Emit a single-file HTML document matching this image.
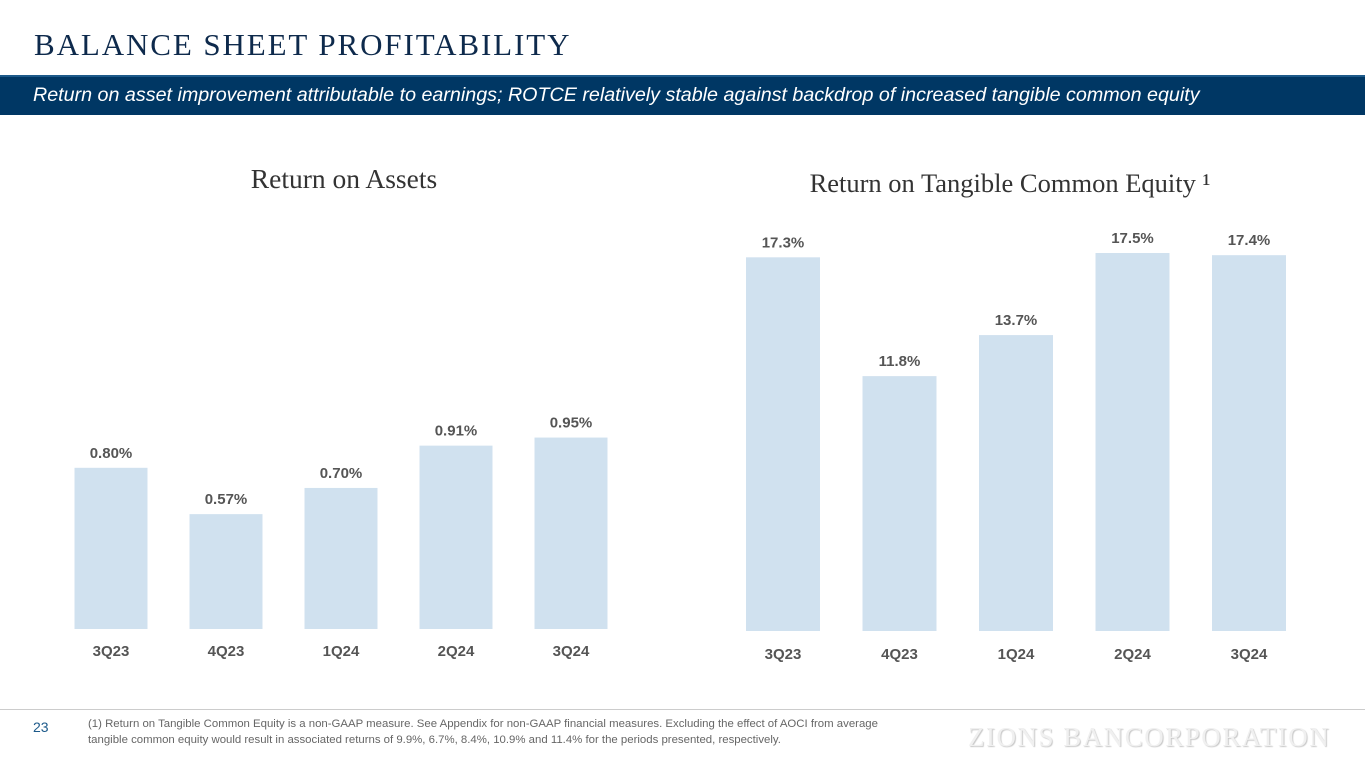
<!DOCTYPE html>
<html><head><meta charset="utf-8"><style>
body{margin:0;width:1365px;height:768px;position:relative;background:#fff;overflow:hidden;font-family:"Liberation Sans",sans-serif}
.abs{position:absolute}
</style></head><body>
<div class="abs" style="left:34px;top:27px;font-family:'Liberation Serif',serif;font-size:31px;color:#0e2a4c;letter-spacing:1.9px;white-space:nowrap">BALANCE SHEET PROFITABILITY</div>
<div class="abs" style="left:0;top:75px;width:1365px;height:40px;background:#003764;border-top:2px solid #1d5a8a;box-sizing:border-box"></div>
<div class="abs" style="left:33px;top:84px;font-size:19.7px;font-style:italic;color:#fff;white-space:nowrap">Return on asset improvement attributable to earnings; ROTCE relatively stable against backdrop of increased tangible common equity</div>
<svg class="abs" style="left:0;top:0" width="1365" height="768" id="chart">
<text x="344" y="188" text-anchor="middle" font-family="Liberation Serif,serif" font-size="27.5" fill="#333">Return on Assets</text>
<text x="1010" y="192" text-anchor="middle" font-family="Liberation Serif,serif" font-size="26.5" fill="#333">Return on Tangible Common Equity ¹</text>
</svg>
<div class="abs" style="left:0;top:709px;width:1365px;height:1px;background:#ccc"></div>
<div class="abs" style="left:33px;top:719px;font-size:14px;color:#1d5a8a">23</div>
<div class="abs" style="left:88px;top:716px;font-size:11.4px;color:#666;line-height:16px;white-space:nowrap">(1) Return on Tangible Common Equity is a non-GAAP measure. See Appendix for non-GAAP financial measures. Excluding the effect of AOCI from average<br>tangible common equity would result in associated returns of 9.9%, 6.7%, 8.4%, 10.9% and 11.4% for the periods presented, respectively.</div>
<div class="abs" style="left:968px;top:722px;font-family:'Liberation Serif',serif;font-size:27px;color:#f0f0f0;letter-spacing:1.5px;text-shadow:1px 1px 1px #c8c8c8;white-space:nowrap">ZIONS BANCORPORATION</div>
<script>
const categories=["3Q23","4Q23","1Q24","2Q24","3Q24"];
const roaValues=[0.80,0.57,0.70,0.91,0.95];
const roaLabels=["0.80%","0.57%","0.70%","0.91%","0.95%"];
const rotceValues=[17.3,11.8,13.7,17.5,17.4];
const rotceLabels=["17.3%","11.8%","13.7%","17.5%","17.4%"];
const svg=document.getElementById('chart');
const NS="http://www.w3.org/2000/svg";
function draw(prefix,vals,labels,x0,step,w,base,scale,catY){
  const x=i=>x0+i*step;
  const y=v=>base-v*scale;
  vals.forEach((v,i)=>{
    const r=document.createElementNS(NS,'rect');
    r.setAttribute('x',x(i)-w/2);r.setAttribute('y',y(v));r.setAttribute('width',w);r.setAttribute('height',base-y(v));r.setAttribute('fill','#d0e1ef');
    
    
    svg.appendChild(r);
    const t=document.createElementNS(NS,'text');
    t.setAttribute('x',x(i));t.setAttribute('y',y(v)-10);t.setAttribute('text-anchor','middle');t.setAttribute('font-size','15');t.setAttribute('font-weight','bold');t.setAttribute('fill','#555');
    t.textContent=labels[i];
    
    
    svg.appendChild(t);
    const c=document.createElementNS(NS,'text');
    c.setAttribute('x',x(i));c.setAttribute('y',catY);c.setAttribute('text-anchor','middle');c.setAttribute('font-size','15');c.setAttribute('font-weight','bold');c.setAttribute('fill','#555');
    c.textContent=categories[i];
    
    
    svg.appendChild(c);
  });
}
draw('roa',roaValues,roaLabels,111,115,73,629,201.5,656);
draw('rotce',rotceValues,rotceLabels,783,116.5,74,631,21.6,659);
</script>
</body></html>
